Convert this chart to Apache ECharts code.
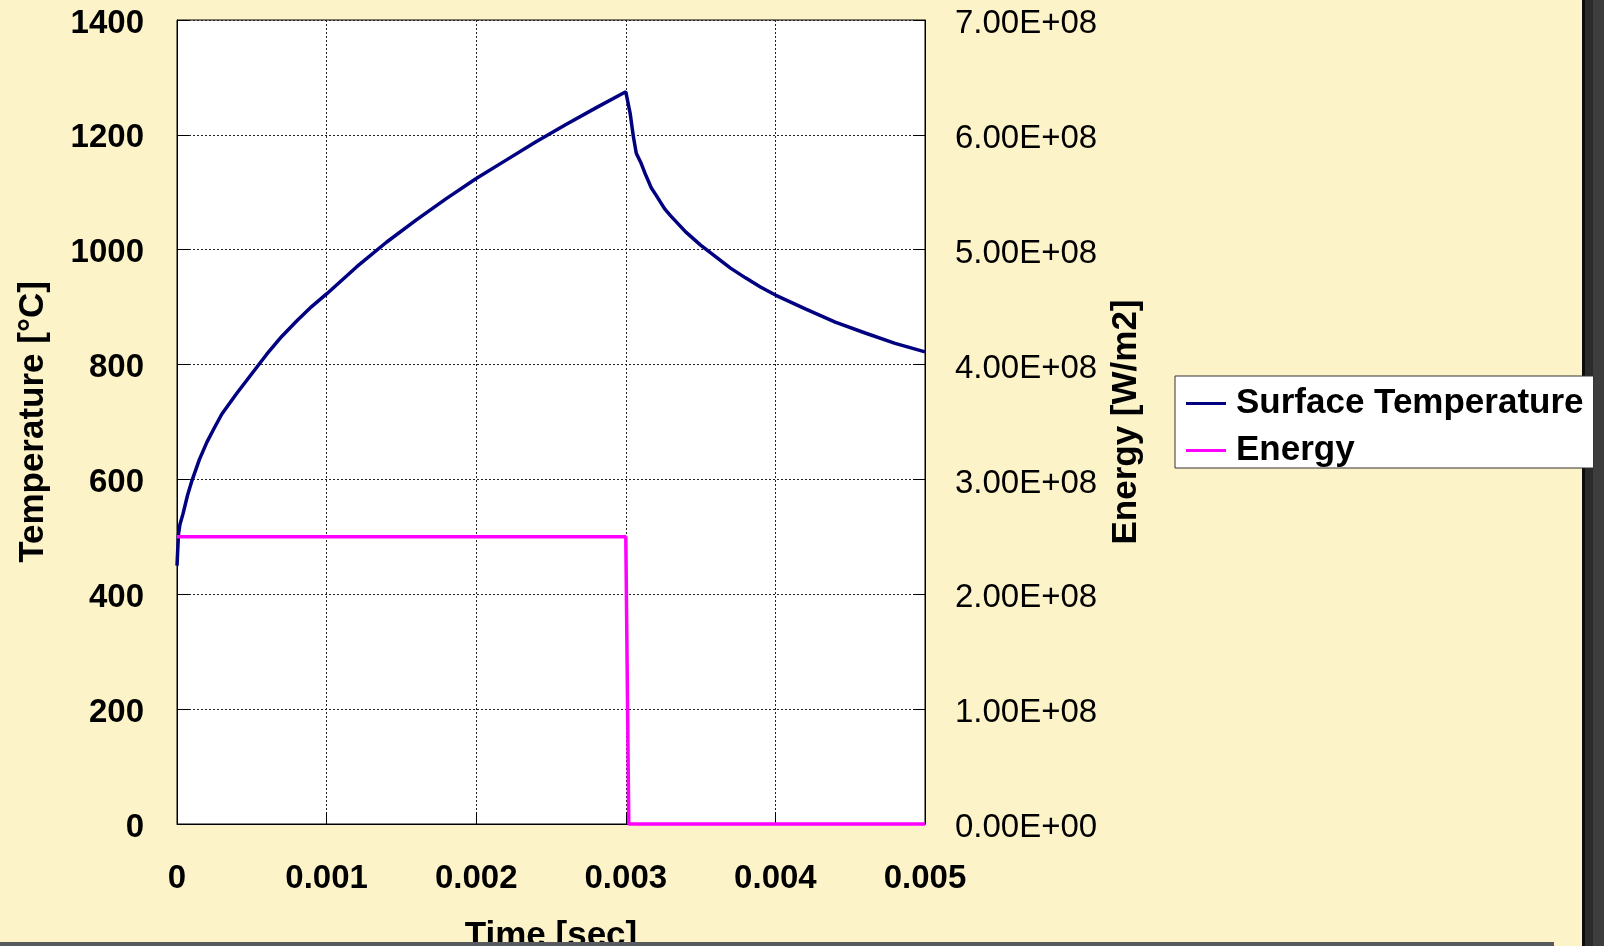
<!DOCTYPE html>
<html>
<head>
<meta charset="utf-8">
<title>Surface Temperature and Energy</title>
<script src="https://cdn.jsdelivr.net/npm/echarts@6/dist/echarts.min.js"></script>
<style>
  html, body { margin: 0; padding: 0; background: #FCF3C8; }
  #chart { width: 1604px; height: 946px; }
</style>
</head>
<body>
<div id="chart"></div>
<script>
// Surface temperature history [s, °C]
const tempTime = [0, 0.00001, 0.00002, 0.00004, 0.00007, 0.0001, 0.00015, 0.0002, 0.00025, 0.0003,
  0.0004, 0.0005, 0.0006, 0.0007, 0.0008, 0.0009, 0.001, 0.0012, 0.0014, 0.0016,
  0.0018, 0.002, 0.0022, 0.0024, 0.0026, 0.0028, 0.003, 0.00303, 0.00305, 0.00307,
  0.0031, 0.00313, 0.00317, 0.0032, 0.00326, 0.0033, 0.0034, 0.0035, 0.0036, 0.0037,
  0.0038, 0.0039, 0.004, 0.0042, 0.0044, 0.0046, 0.0048, 0.005];
const surfaceTemp = [450, 505, 522, 540, 572, 598, 635, 665, 690, 714,
  750, 784, 818, 849, 876, 901, 923, 970, 1013, 1052,
  1089, 1124, 1156, 1188, 1218, 1247, 1275, 1236, 1198, 1168,
  1152, 1132, 1108, 1096, 1071, 1059, 1031, 1008, 988, 968,
  951, 935, 921, 897, 874, 855, 837, 822];

// Applied heat flux [s, W/m2]
const energyTime = [0, 0.003, 0.00302, 0.005];
const energyFlux = [2.5e8, 2.5e8, 0, 0];

// Axis ranges and titles
const timeTicks = { min: 0, max: 0.005, interval: 0.001 };
const tempTicks = { min: 0, max: 1400, interval: 200 };
const fluxTicks = { min: 0, max: 7e8, interval: 1e8 };
const seriesNames = ['Surface Temperature', 'Energy'];
const axisTitles = { x: 'Time [sec]', left: 'Temperature [°C]', right: 'Energy [W/m2]' };

const zip = (xs, ys) => xs.map((x, i) => [x, ys[i]]);

function sci(v) {
  if (v === 0) return '0.00E+00';
  const e = Math.floor(Math.log10(Math.abs(v)) + 1e-9);
  const m = v / Math.pow(10, e);
  const sign = e < 0 ? '-' : '+';
  return m.toFixed(2) + 'E' + sign + String(Math.abs(e)).padStart(2, '0');
}

const FONT = '"Liberation Sans", Arial, sans-serif';
const gridDash = { type: [2, 2], color: '#222', width: 1 };

const chart = echarts.init(document.getElementById('chart'), null, { renderer: 'canvas' });

chart.setOption({
  backgroundColor: '#FCF3C8',
  animation: false,
  textStyle: { fontFamily: FONT },
  grid: {
    left: 177, top: 20, width: 748, height: 804,
    show: true, backgroundColor: '#ffffff', borderColor: '#000', borderWidth: 1,
    containLabel: false,
    outerBoundsMode: 'none'
  },
  legend: {
    data: seriesNames,
    orient: 'vertical',
    left: 1175, top: 376,
    z: 10,
    backgroundColor: '#ffffff',
    borderColor: '#333',
    borderWidth: 1,
    borderRadius: 0,
    padding: [10, 10, 0, 11],
    itemWidth: 40, itemHeight: 3, itemGap: 12,
    icon: 'rect',
    textStyle: { fontFamily: FONT, fontWeight: 'bold', fontSize: 35, color: '#000', padding: [0, 0, 0, 5] }
  },
  xAxis: {
    type: 'value',
    min: timeTicks.min, max: timeTicks.max, interval: timeTicks.interval,
    name: axisTitles.x, nameLocation: 'middle', nameGap: 95,
    nameTextStyle: { fontFamily: FONT, fontWeight: 'bold', fontSize: 35, color: '#000' },
    axisLine: { show: true, onZero: false, lineStyle: { color: '#000', width: 1 } },
    axisTick: { show: true, inside: true, length: 12, lineStyle: { color: '#000' } },
    axisLabel: {
      margin: 38, fontFamily: FONT, fontWeight: 'bold', fontSize: 33, color: '#000',
      formatter: v => (v === 0 ? '0' : v.toFixed(3))
    },
    splitLine: { show: true, lineStyle: gridDash }
  },
  yAxis: [
    {
      type: 'value', position: 'left',
      min: tempTicks.min, max: tempTicks.max, interval: tempTicks.interval,
      name: axisTitles.left, nameLocation: 'middle', nameGap: 126, nameRotate: 90,
      nameTextStyle: { fontFamily: FONT, fontWeight: 'bold', fontSize: 35, color: '#000' },
      axisLine: { show: true, lineStyle: { color: '#000', width: 1 } },
      axisTick: { show: true, inside: true, length: 12, lineStyle: { color: '#000' } },
      axisLabel: {
        margin: 33, fontFamily: FONT, fontWeight: 'bold', fontSize: 33, color: '#000',
        verticalAlign: 'top', lineHeight: 7,
        formatter: v => String(Math.round(v))
      },
      splitLine: { show: true, lineStyle: gridDash }
    },
    {
      type: 'value', position: 'right',
      min: fluxTicks.min, max: fluxTicks.max, interval: fluxTicks.interval,
      name: axisTitles.right, nameLocation: 'middle', nameGap: 184, nameRotate: 90,
      nameTextStyle: { fontFamily: FONT, fontWeight: 'bold', fontSize: 35, color: '#000' },
      axisLine: { show: true, lineStyle: { color: '#000', width: 1 } },
      axisTick: { show: true, inside: true, length: 12, lineStyle: { color: '#000' } },
      axisLabel: {
        margin: 30, fontFamily: '"Liberation Sans Narrow", "Liberation Sans", Arial, sans-serif',
        fontSize: 33, color: '#000', verticalAlign: 'top', lineHeight: 8, formatter: sci
      },
      splitLine: { show: false }
    }
  ],
  series: [
    {
      name: seriesNames[0], type: 'line', yAxisIndex: 0,
      data: zip(tempTime, surfaceTemp),
      showSymbol: false, symbol: 'none', clip: false,
      itemStyle: { color: '#000080' },
      lineStyle: { color: '#000080', width: 3.5 }
    },
    {
      name: seriesNames[1], type: 'line', yAxisIndex: 1,
      data: zip(energyTime, energyFlux),
      showSymbol: false, symbol: 'none', clip: false,
      itemStyle: { color: '#FF00FF' },
      lineStyle: { color: '#FF00FF', width: 3.5 }
    }
  ],
  graphic: [
    // window frame strip on the right
    { type: 'rect', z: 1, shape: { x: 1582, y: 0, width: 3, height: 946 }, style: { fill: '#0b0b0b' } },
    { type: 'rect', z: 1, shape: { x: 1585, y: 0, width: 8, height: 946 }, style: { fill: '#2b2b2b' } },
    { type: 'rect', z: 1, shape: { x: 1593, y: 0, width: 11, height: 946 }, style: { fill: '#3d3d3d' } },
    // scrollbar strip along the bottom
    { type: 'rect', z: 20, shape: { x: 0, y: 942, width: 1554, height: 4 }, style: { fill: '#575b5f' } }
  ]
});
</script>
</body>
</html>
